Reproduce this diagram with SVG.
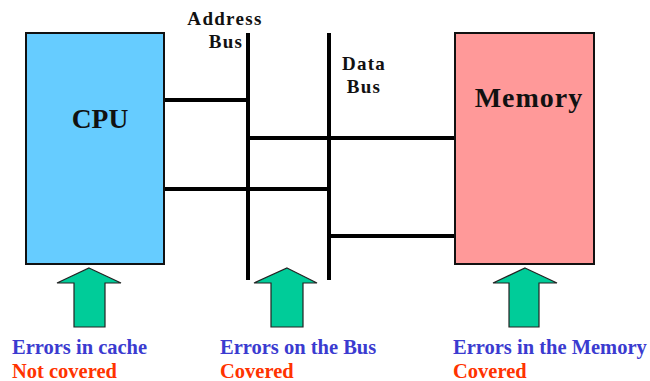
<svg xmlns="http://www.w3.org/2000/svg" width="650" height="381" viewBox="0 0 650 381">
<style>
text{font-family:"Liberation Serif","Times New Roman",serif;font-weight:bold}
.box{stroke:#111;stroke-width:2}
.bus{stroke:#000;stroke-width:4;fill:none}
.wire{stroke:#000;stroke-width:4;fill:none}
.arrow{fill:#00CC99;stroke:#222;stroke-width:1.2}
.lab{font-size:19px;fill:#111;letter-spacing:1.3px}
.err{font-size:20.5px;fill:#3B3BD0}
.cov{font-size:20.5px;fill:#FF3300}
</style>
<rect width="650" height="381" fill="#fff"/>
<g id="connectors">
<line class="bus" x1="248" y1="33" x2="248" y2="280"/>
<line class="bus" x1="329" y1="33" x2="329" y2="280"/>
<line class="wire" x1="164" y1="100" x2="248" y2="100"/>
<line class="wire" x1="248" y1="138" x2="455" y2="138"/>
<line class="wire" x1="164" y1="189" x2="329" y2="189"/>
<line class="wire" x1="329" y1="236" x2="455" y2="236"/>
</g>
<g id="cpu">
<rect class="box" x="26" y="33" width="138" height="231" fill="#66CCFF"/>
<text x="100" y="128" font-size="27.5" text-anchor="middle" fill="#111">CPU</text>
</g>
<g id="memory">
<rect class="box" x="455" y="33" width="139" height="231" fill="#FF9999"/>
<text x="529" y="107" font-size="28" text-anchor="middle" fill="#111" letter-spacing="1">Memory</text>
</g>
<g id="address-bus-label">
<text class="lab" x="225" y="25" text-anchor="middle">Address</text>
<text class="lab" x="226" y="48" text-anchor="middle">Bus</text>
</g>
<g id="data-bus-label">
<text class="lab" x="364" y="70" text-anchor="middle">Data</text>
<text class="lab" x="364" y="93" text-anchor="middle">Bus</text>
</g>
<g id="arrow-cache">
<polygon class="arrow" points="89,268 121,283 105,283 105,327 74,327 74,283 57,283"/>
</g>
<g id="arrow-bus">
<polygon class="arrow" points="287,268 317,283 303,283 303,327 271,327 271,283 254,283"/>
</g>
<g id="arrow-memory">
<polygon class="arrow" points="525,268 557,283 539,283 539,327 509,327 509,283 493,283"/>
</g>
<g id="label-cache">
<text class="err" x="12" y="354">Errors in cache</text>
<text class="cov" x="12" y="378">Not covered</text>
</g>
<g id="label-bus">
<text class="err" x="220" y="354">Errors on the Bus</text>
<text class="cov" x="220" y="378">Covered</text>
</g>
<g id="label-memory">
<text class="err" x="453" y="354">Errors in the Memory</text>
<text class="cov" x="453" y="378">Covered</text>
</g>
</svg>
